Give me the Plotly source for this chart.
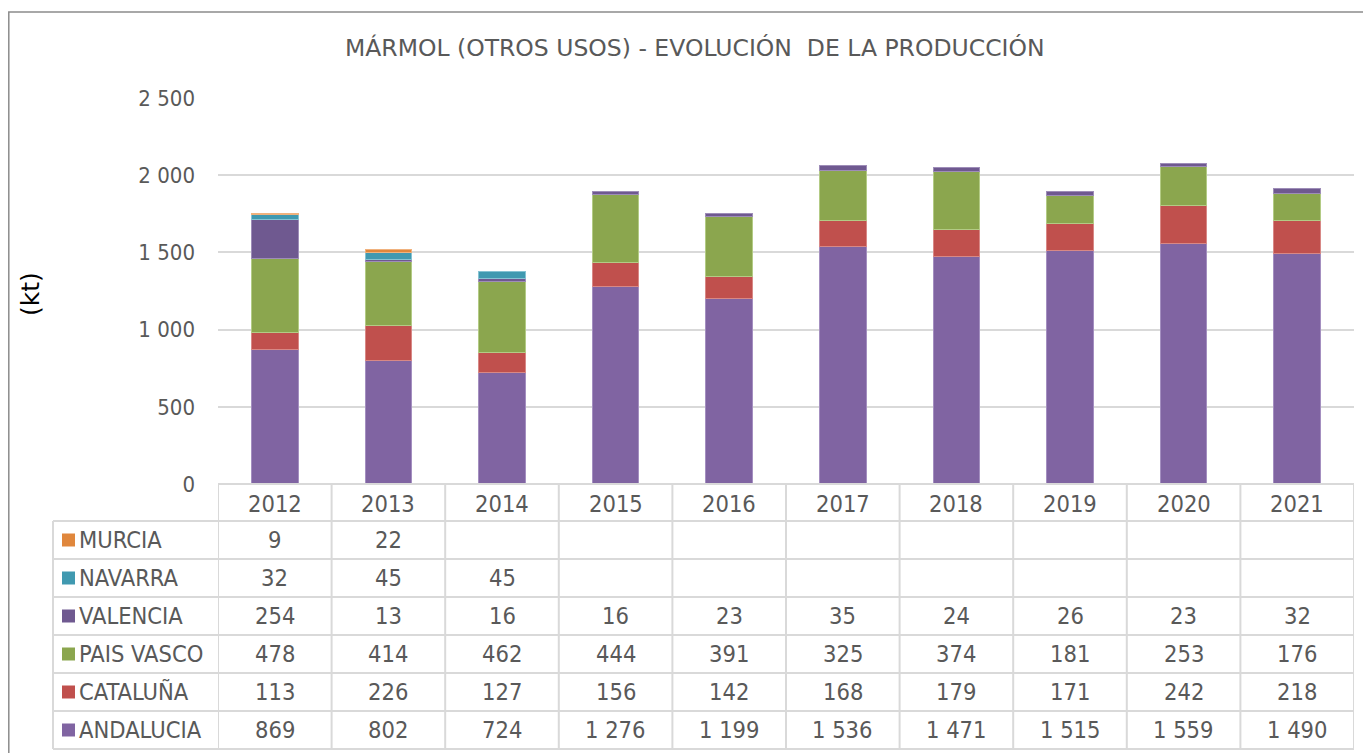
import plotly.graph_objects as go

years = ["2012", "2013", "2014", "2015", "2016", "2017", "2018", "2019", "2020", "2021"]
andalucia = [869, 802, 724, 1276, 1199, 1536, 1471, 1515, 1559, 1490]
cataluna = [113, 226, 127, 156, 142, 168, 179, 171, 242, 218]
pais_vasco = [478, 414, 462, 444, 391, 325, 374, 181, 253, 176]
valencia = [254, 13, 16, 16, 23, 35, 24, 26, 23, 32]
navarra = [32, 45, 45, None, None, None, None, None, None, None]
murcia = [9, 22, None, None, None, None, None, None, None, None]

# bottom -> top stacking order
series = [
    ("ANDALUCIA", andalucia, "#8064A2", "#A48FC0"),
    ("CATALUÑA", cataluna, "#C0504D", "#D88886"),
    ("PAIS VASCO", pais_vasco, "#8BA64E", "#B3CB85"),
    ("VALENCIA", valencia, "#6F5990", "#9E8DB8"),
    ("NAVARRA", navarra, "#4099B0", "#86C3D3"),
    ("MURCIA", murcia, "#E0873C", "#F0B27E"),
]
table_rows = list(reversed(series))  # top -> bottom in the data table

W, H = 1371, 753
OFF = 8  # page body margin offset
FONT = "DejaVu Sans Condensed, DejaVu Sans, Liberation Sans, Arial"
TFONT = "DejaVu Sans, Liberation Sans, Arial"
TXT = "#595959"
LINE = "#D9D9D9"


def px(p):
    return (p - OFF) / W


def py(p):
    return 1 - (p - OFF) / H


def fmt(v):
    return "" if v is None else f"{v:,}".replace(",", " ")


fig = go.Figure()
for name, vals, col, edge in series:
    fig.add_trace(go.Bar(
        x=list(range(len(years))), y=vals, name=name,
        marker=dict(color=col, line=dict(color=edge, width=1)),
        width=0.41,
    ))

plot_left, plot_right, plot_bottom, plot_top = 218, 1354, 484, 98
header_h = 37
row_h = 38
table_left = 53
n = len(years)

shapes = []
annotations = []

# outer chart border
shapes.append(dict(type="rect", xref="paper", yref="paper",
                   x0=px(OFF + 0.8), x1=px(W + 40), y0=py(12), y1=py(H + 40),
                   line=dict(color="#8C8C8C", width=1.5), layer="below"))

table_bottom = plot_bottom + header_h + row_h * len(table_rows)

# vertical table lines at category boundaries
for k in range(n + 1):
    shapes.append(dict(type="line", xref="x", yref="paper",
                       x0=k - 0.5, x1=k - 0.5, y0=py(plot_bottom), y1=py(table_bottom),
                       line=dict(color=LINE, width=2)))
# left border of legend column
shapes.append(dict(type="line", xref="paper", yref="paper",
                   x0=px(table_left), x1=px(table_left),
                   y0=py(plot_bottom + header_h), y1=py(table_bottom),
                   line=dict(color=LINE, width=2)))
# top line of header row (axis line)
shapes.append(dict(type="line", xref="x", yref="paper",
                   x0=-0.5, x1=n - 0.5, y0=py(plot_bottom), y1=py(plot_bottom),
                   line=dict(color=LINE, width=2)))
# horizontal row lines
for r in range(len(table_rows) + 1):
    yy = py(plot_bottom + header_h + r * row_h)
    shapes.append(dict(type="line", xref="paper", yref="paper",
                       x0=px(table_left), x1=px(plot_right), y0=yy, y1=yy,
                       line=dict(color=LINE, width=2)))

TFS = 23.5
# header (years)
for i, yr in enumerate(years):
    annotations.append(dict(x=i, y=py(plot_bottom + header_h / 2 + 1), xref="x", yref="paper",
                            text=yr, showarrow=False, font=dict(size=TFS, color=TXT, family=FONT),
                            xanchor="center", yanchor="middle"))
# rows
for r, (name, vals, col, edge) in enumerate(table_rows):
    yc = plot_bottom + header_h + r * row_h + row_h / 2
    shapes.append(dict(type="rect", xref="paper", yref="paper",
                       x0=px(62), x1=px(75), y0=py(yc - 6.5), y1=py(yc + 6.5),
                       fillcolor=col, line=dict(width=0)))
    annotations.append(dict(x=px(77), y=py(yc), xref="paper", yref="paper",
                            text=name, showarrow=False, font=dict(size=TFS, color=TXT, family=FONT),
                            xanchor="left", yanchor="middle"))
    for i, v in enumerate(vals):
        if v is None:
            continue
        annotations.append(dict(x=i, y=py(yc), xref="x", yref="paper",
                                text=fmt(v), showarrow=False,
                                font=dict(size=TFS, color=TXT, family=FONT),
                                xanchor="center", yanchor="middle"))

# y-axis title
annotations.append(dict(x=px(30), y=py(294), xref="paper", yref="paper",
                        text="(kt)", textangle=-90, showarrow=False,
                        font=dict(size=25, color="#000000", family=TFONT),
                        xanchor="center", yanchor="middle"))
# chart title
annotations.append(dict(x=px(695), y=py(48), xref="paper", yref="paper",
                        text="MÁRMOL (OTROS USOS) - EVOLUCIÓN  DE LA PRODUCCIÓN",
                        showarrow=False, font=dict(size=23.5, color=TXT, family=TFONT),
                        xanchor="center", yanchor="middle"))

fig.update_layout(
    width=W, height=H,
    margin=dict(l=0, r=0, t=0, b=0, autoexpand=False),
    paper_bgcolor="white", plot_bgcolor="white",
    barmode="stack", showlegend=False,
    separators=", ",
    font=dict(family=FONT, color=TXT),
    xaxis=dict(domain=[px(plot_left), px(plot_right)], range=[-0.5, n - 0.5],
               showticklabels=False, showgrid=False, zeroline=False, showline=False,
               fixedrange=True, automargin=False),
    yaxis=dict(domain=[py(plot_bottom), py(plot_top)], range=[0, 2500], dtick=500,
               tickformat=",d", showgrid=True, gridcolor=LINE, gridwidth=2,
               zeroline=False, showline=False, ticks="", automargin=False,
               tickfont=dict(size=22, color=TXT, family=FONT), ticklabelstandoff=22),
    shapes=shapes, annotations=annotations,
)

fig.write_html("out.html")
